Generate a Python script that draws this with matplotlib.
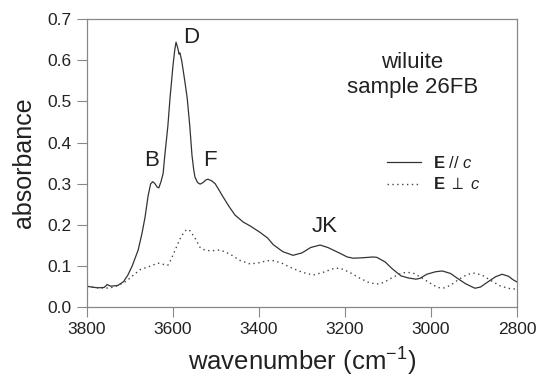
import matplotlib
matplotlib.use('Agg')
import matplotlib.pyplot as plt

plt.rcParams['font.family'] = ['Liberation Sans', 'DejaVu Sans']
plt.rcParams['mathtext.fontset'] = 'custom'
plt.rcParams['mathtext.rm'] = 'Liberation Sans'
plt.rcParams['mathtext.it'] = 'Liberation Sans:italic'
plt.rcParams['mathtext.bf'] = 'Liberation Sans:bold'

# E // c  (solid)
wn_par = [3800, 3790, 3775, 3760, 3753, 3745, 3735, 3728, 3715, 3705, 3695, 3681,
          3672, 3665, 3658, 3652, 3647, 3642, 3637, 3633, 3628, 3623, 3619, 3612,
          3607, 3600, 3596, 3593, 3589, 3586, 3584, 3580, 3577, 3572, 3567, 3561,
          3556, 3552, 3549, 3543, 3537, 3530, 3524, 3519, 3510, 3502, 3495, 3486,
          3470, 3456, 3437, 3420, 3398, 3380, 3367, 3345, 3321, 3300, 3280, 3258,
          3240, 3212, 3195, 3181, 3160, 3135, 3126, 3107, 3090, 3070, 3053, 3035,
          3026, 3010, 2990, 2974, 2955, 2940, 2920, 2898, 2885, 2870, 2850, 2835,
          2820, 2810, 2800]
abs_par = [0.051, 0.049, 0.047, 0.048, 0.055, 0.051, 0.052, 0.053, 0.062, 0.078, 0.100, 0.139,
           0.180, 0.219, 0.270, 0.300, 0.305, 0.300, 0.292, 0.290, 0.305, 0.325, 0.370, 0.440,
           0.508, 0.588, 0.625, 0.644, 0.630, 0.615, 0.618, 0.600, 0.580, 0.545, 0.508, 0.440,
           0.370, 0.335, 0.316, 0.303, 0.299, 0.303, 0.309, 0.311, 0.307, 0.300, 0.288, 0.272,
           0.245, 0.224, 0.207, 0.197, 0.182, 0.168, 0.152, 0.135, 0.126, 0.132, 0.145, 0.151,
           0.145, 0.131, 0.122, 0.119, 0.120, 0.122, 0.121, 0.110, 0.093, 0.076, 0.071, 0.068,
           0.070, 0.080, 0.086, 0.088, 0.082, 0.071, 0.057, 0.046, 0.049, 0.060, 0.074, 0.080,
           0.075, 0.067, 0.061]

# E perp c  (dotted)
wn_perp = [3800, 3780, 3760, 3745, 3730, 3715, 3705, 3690, 3675, 3660, 3645, 3635,
           3622, 3612, 3605, 3595, 3585, 3579, 3570, 3565, 3560, 3549, 3537, 3525,
           3510, 3491, 3478, 3463, 3445, 3421, 3400, 3381, 3365, 3345, 3328, 3300,
           3274, 3250, 3230, 3212, 3190, 3165, 3145, 3126, 3110, 3090, 3070, 3056,
           3040, 3020, 3000, 2985, 2972, 2955, 2935, 2915, 2898, 2880, 2860, 2840,
           2821, 2810, 2800]
abs_perp = [0.050, 0.048, 0.046, 0.047, 0.052, 0.059, 0.066, 0.080, 0.092, 0.097, 0.103, 0.107,
            0.104, 0.102, 0.115, 0.139, 0.163, 0.175, 0.187, 0.189, 0.185, 0.168, 0.145, 0.138,
            0.137, 0.139, 0.134, 0.126, 0.114, 0.105, 0.108, 0.113, 0.113, 0.106, 0.097, 0.085,
            0.078, 0.085, 0.093, 0.095, 0.085, 0.070, 0.060, 0.056, 0.060, 0.072, 0.082, 0.085,
            0.082, 0.070, 0.057, 0.048, 0.046, 0.053, 0.068, 0.080, 0.083, 0.077, 0.064, 0.052,
            0.046, 0.044, 0.045]

peak_names = ['B', 'D', 'F', 'JK']
peak_x = [3649, 3558, 3514, 3247]
peak_y = [0.343, 0.642, 0.343, 0.182]

fig = plt.figure(figsize=(5.37, 3.83), dpi=100)
ax = fig.add_axes([0.162, 0.198, 0.801, 0.752])

ax.plot(wn_par, abs_par, color='#333333', lw=0.9, label=r'$\mathbf{E}$ // $\mathit{c}$')
ax.plot(wn_perp, abs_perp, color='#444444', lw=1.0, ls=(0, (1, 2.5)),
        label=r'$\mathbf{E}$ $\perp$ $\mathit{c}$')

for name, x, y in zip(peak_names, peak_x, peak_y):
    ax.text(x, y, name, ha='center', va='baseline', fontsize=16, color='#222222')

ax.text(0.756, 0.83, 'wiluite', transform=ax.transAxes, ha='center', va='baseline',
        fontsize=16, color='#222222')
ax.text(0.756, 0.743, 'sample 26FB', transform=ax.transAxes, ha='center', va='baseline',
        fontsize=16, color='#222222')

leg = ax.legend(loc='upper left', bbox_to_anchor=(0.698, 0.53), frameon=False,
                fontsize=12, handlelength=2.0, handletextpad=0.75, labelspacing=0.35,
                borderpad=0, borderaxespad=0)
for t in leg.get_texts():
    t.set_color('#222222')

ax.set_xlim(3800, 2800)
ax.set_ylim(0, 0.7)
ax.set_xticks([3800, 3600, 3400, 3200, 3000, 2800])
ax.set_yticks([0.0, 0.1, 0.2, 0.3, 0.4, 0.5, 0.6, 0.7])
ax.yaxis.set_major_formatter(plt.FormatStrFormatter('%.1f'))
ax.tick_params(direction='out', length=7, width=0.8, color='#888888',
               labelsize=12.5, labelcolor='#222222', pad=4)
for s in ax.spines.values():
    s.set_color('#888888')
    s.set_linewidth(0.9)

ax.set_xlabel(r'wavenumber (cm$^{\mathregular{-1}}$)', fontsize=18.5, color='#222222', labelpad=6)
ax.set_ylabel('absorbance', fontsize=18, color='#222222', labelpad=8)

fig.savefig('out.png', dpi=100)
